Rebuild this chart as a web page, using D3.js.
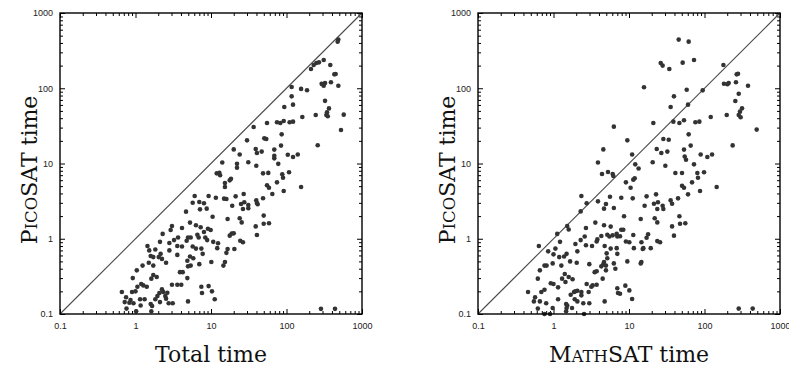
<!DOCTYPE html>
<html>
<head>
<meta charset="utf-8">
<script src="https://cdn.jsdelivr.net/npm/d3@7"></script>
<style>
  body { margin: 0; background: #fff; }
  svg { display: block; }
</style>
</head>
<body>
<svg id="chart" width="789" height="366"></svg>
<script>
// left panel: total time vs PicoSAT time
const totalTime = [
  14.1,11.9,12.9,13.2,6.08,9.3,11.6,14.9,5.72,7.0,
  8.07,7.15,8.77,4.67,10.5,5.27,6.32,7.3,4.13,3.04,
  2.92,2.29,9.1,9.9,8.07,6.6,6.87,4.96,5.38,3.66,
  4.76,8.4,8.9,2.11,2.81,3.24,10.7,12.4,1.44,1.83,
  1.52,2.15,2.81,3.58,4.13,5.72,6.32,7.45,12.1,1.72,
  1.59,2.24,2.54,2.03,3.58,7.76,5.27,5.83,4.86,5.38,
  4.96,7.0,14.6,10.1,1.24,1.04,1.50,1.72,3.88,4.22,
  4.86,0.92,1.62,1.72,1.91,1.19,1.27,1.06,1.41,3.04,
  3.58,4.04,7.45,9.3,7.6,10.3,0.66,0.90,1.0,0.75,
  0.86,0.72,0.83,0.94,1.15,2.24,2.33,2.07,1.95,2.64,
  1.83,2.48,2.54,1.32,1.17,1.59,1.66,2.11,2.75,3.11,
  4.96,11.2,0.76,1.02,1.62,
  486,476,311,269,248,229,211,380,430,448,
  292,324,311,298,388,486,117,117,122,156,
  187,324,365,344,337,352,244,162,573,527,
  259,93.5,91.8,110,122,74.8,82.8,55.2,36.7,50.8,
  54,30,39.1,40.6,46.9,20,24,68.9,68.9,68.9,
  84.6,86.3,104,122,141,31.2,22.1,22.1,39.8,77.8,
  48.9,57.4,87.9,89.9,108,74.8,91.8,55.2,58.6,64.9,
  156,15.3,17.7,18.4,15.3,21.2,19.1,27.1,25,27.6,
  31.2,31.2,26.5,39.8,40.6,41.5,48.9,16,16.6,24,
  25.5,49.9,49.9,58.6,39.1,40.6,17.7,18.8,20,24.4,
  26.5,20.4,16.6,16,15.3,286,439
];
const picoTimeLeft = [
  10.3,7.4,7.55,6.97,3.70,3.70,3.51,3.41,3.01,3.08,
  2.96,2.46,2.51,2.29,1.96,1.64,1.51,1.42,1.39,1.48,
  1.31,1.16,1.36,1.31,1.23,1.13,1.04,1.04,1.04,1.04,
  0.94,1.04,0.96,0.91,0.88,0.96,0.91,0.87,0.80,0.72,
  0.70,0.63,0.70,0.80,0.79,0.79,0.74,0.74,0.75,0.57,
  0.59,0.54,0.48,0.57,0.61,0.63,0.58,0.55,0.51,0.44,
  0.43,0.46,0.44,0.49,0.44,0.38,0.48,0.44,0.36,0.36,
  0.30,0.30,0.295,0.33,0.31,0.25,0.24,0.23,0.23,0.245,
  0.245,0.245,0.23,0.235,0.19,0.20,0.196,0.196,0.20,0.167,
  0.153,0.144,0.141,0.139,0.157,0.213,0.196,0.19,0.173,0.192,
  0.157,0.173,0.16,0.157,0.13,0.136,0.128,0.144,0.139,0.139,
  0.147,0.157,0.118,0.109,0.109,
  443,416,237,221,217,204,180,204,153,155,
  115,117,108,113,120,108,104,78,60.5,98,
  94,68,54,47.9,44.1,42.4,44.1,41.5,44.6,27.9,
  17.5,56.4,36.7,35.3,36,35.3,34.5,34.5,30.5,21.6,
  21.2,20.3,15.6,13.8,14.4,15.4,13.2,15.3,12.7,11.7,
  17.3,24.4,13.1,12.2,13.2,10.4,9.9,8.8,9.35,9.9,
  7.4,7.5,7.18,6.47,7.64,5.62,4.31,5.13,4.77,3.93,
  4.87,5.5,5.97,6.28,4.87,3.66,2.75,3.93,2.9,3.05,
  2.81,2.54,2.48,3.24,2.99,2.87,3.45,3.37,1.83,1.87,
  1.65,2.03,1.58,1.61,1.46,1.12,1.10,1.17,1.18,0.94,
  0.90,0.73,0.73,0.65,0.49,0.117,0.117
];

// right panel: MathSAT time vs PicoSAT time
const mathsatTime = [
  6.3,4.57,3.88,4.39,5.27,6.08,6.2,2.34,2.75,
  2.29,3.88,4.95,5.6,4.67,6.3,1.52,1.59,2.69,1.12,
  3.58,4.67,5.72,6.87,5.16,5.5,6.08,7.0,1.22,1.95,
  2.29,2.59,3.73,3.81,4.3,0.64,1.06,0.85,0.76,0.81,
  1.0,1.49,1.38,1.19,2.07,2.69,3.24,4.76,5.72,6.87,
  0.975,1.27,1.66,2.03,2.98,5.06,5.16,4.67,4.57,4.95,
  4.3,6.3,7.0,6.6,0.66,0.62,1.41,1.59,1.30,3.51,
  3.73,4.48,4.95,0.92,1.0,1.15,1.44,1.79,2.75,3.30,
  3.17,3.73,0.46,0.69,0.76,1.69,1.87,1.95,2.07,2.34,
  2.34,2.92,7.0,7.15,0.57,0.55,0.66,0.80,1.15,1.47,
  1.52,1.91,2.07,2.48,2.98,4.76,0.62,0.975,1.49,1.47,
  1.76,0.76,0.90,2.54,
  45.5,61.7,72.6,51.4,26.3,27.9,34.2,178,278,267,
  261,377,209,201,181,15.8,39.4,58.1,94.6,256,
  284,314,295,284,301,197,121,60.5,35.6,21,
  38.7,46.5,53.5,75.7,85.5,491,236,9.5,28.5,33.6,
  61.7,11,23.3,26.8,32.2,53.5,54.7,56.9,65.6,89,
  109,126,12.1,13.4,20.6,30.3,72.6,41.1,50.4,50.4,
  53.5,60.5,68.4,82,80.4,98.6,87.3,145,9.1,10.5,
  11.4,11.9,7.9,11.2,17.1,16.1,22.8,21.4,24.2,27.9,
  28.5,23.7,35.6,37.2,44.6,8.6,14.3,21.9,23.7,37.2,
  46.5,47.4,55.7,7.9,8.4,7.6,11.4,17.1,17.9,9.1,
  10.1,14.6,15.5,11.6,19.4,23.7,25.8,39.4,9.5,15.2,
  14.3,14.6,8.95,10.1,11,7.6,284,435
];
const picoTimeRight = [
  30.9,15.4,10.3,7.26,7.7,7.26,6.82,3.70,2.96,
  2.31,3.14,2.90,3.62,2.51,2.56,1.48,1.33,1.39,1.16,
  1.64,1.51,1.45,1.16,1.13,1.07,1.11,1.07,0.91,0.85,
  0.96,1.07,0.92,0.98,1.09,0.80,0.74,0.68,0.44,0.44,
  0.62,0.63,0.58,0.57,0.68,0.82,0.80,0.80,0.74,0.75,
  0.47,0.44,0.50,0.48,0.46,0.64,0.55,0.49,0.46,0.44,
  0.43,0.47,0.63,0.40,0.38,0.295,0.34,0.31,0.295,0.36,
  0.37,0.295,0.38,0.256,0.25,0.226,0.266,0.29,0.25,0.24,
  0.23,0.245,0.196,0.196,0.21,0.18,0.196,0.20,0.204,0.196,
  0.177,0.196,0.22,0.19,0.167,0.147,0.147,0.139,0.157,0.136,
  0.13,0.157,0.147,0.139,0.139,0.147,0.118,0.12,0.12,0.109,
  0.12,0.1,0.1,0.1,
  443,416,237,219,217,200,180,204,156,153,
  120,108,117,113,115,103,78,95.7,93.8,67.7,
  84.7,54.1,48.9,44.2,41.1,44.2,41.5,60.5,56.4,34.5,
  36,34.5,37.5,35.3,36,28.2,17.4,20.3,21.2,20.7,
  24.4,13.2,15.6,13.8,14.4,15.3,12.4,11.2,17.3,13.2,
  12.2,13.2,9.75,8.6,10.4,9.35,9.75,7.48,7.48,5.07,
  4.77,3.89,5.62,6.48,7.48,7.64,4.31,4.87,5.62,4.77,
  6.1,6.35,3.51,3.44,3.66,2.75,3.89,2.92,3.05,2.75,
  2.48,2.48,3.24,2.92,3.44,1.99,1.83,1.87,1.65,1.46,
  1.99,1.58,1.61,1.32,1.32,1.08,1.12,1.03,1.15,0.92,
  0.90,0.90,0.75,0.75,0.75,0.93,0.90,1.10,0.50,0.73,
  0.47,0.49,0.238,0.206,0.158,0.186,0.118,0.118
];

const axisDomain = [0.1, 1000];
const majorTicks = [0.1, 1, 10, 100, 1000];
const tickLabels = ["0.1", "1", "10", "100", "1000"];

const config = {
  top: 13,
  plotSize: 301,
  plotWidth: 302,
  panelLeft: [60, 478],
  majorTick: 5,
  minorTick: 3,
  dotRadius: 2.3,
  dotColor: "#333",
  diagColor: "#4a4a4a",
  labelFont: "'Liberation Sans', Arial, sans-serif",
  titleFont: "'DejaVu Serif', serif",
  titleSize: 22,
  smallCapSize: 16.5,
  yTitleX: 37,     // baseline offset of the rotated title from the panel's left edge
  yTitleMid: 170,
};

const svg = d3.select("#chart");

function isDecade(v) {
  const l = Math.log10(v);
  return Math.abs(l - Math.round(l)) < 1e-6;
}

function drawPanel(left, xs, ys, xTitle) {
  const W = config.plotWidth, H = config.plotSize;
  const g = svg.append("g").attr("transform", `translate(${left},${config.top})`);

  const x = d3.scaleLog().domain(axisDomain).range([0, W]);
  const y = d3.scaleLog().domain(axisDomain).range([H, 0]);
  const minor = x.ticks().filter(v => !isDecade(v));

  // minor ticks on all four sides, pointing inwards
  const sides = [
    [d3.axisBottom(x), `translate(0,${H})`],
    [d3.axisTop(x), "translate(0,0)"],
    [d3.axisLeft(y), "translate(0,0)"],
    [d3.axisRight(y), `translate(${W},0)`],
  ];
  sides.forEach(([ax, tr]) => {
    g.append("g").attr("class", "minor").attr("transform", tr)
      .call(ax.tickValues(minor).tickSize(-config.minorTick).tickFormat(""));
    g.append("g").attr("class", "major").attr("transform", tr)
      .call(ax.tickValues(majorTicks).tickSize(-config.majorTick).tickFormat(""));
  });

  // labelled axes
  g.append("g").attr("class", "lab").attr("transform", `translate(0,${H})`)
    .call(d3.axisBottom(x).tickValues(majorTicks).tickSize(0).tickPadding(9)
      .tickFormat((d, i) => tickLabels[i]));
  g.append("g").attr("class", "lab")
    .call(d3.axisLeft(y).tickValues(majorTicks).tickSize(0).tickPadding(7)
      .tickFormat((d, i) => tickLabels[i]));

  g.selectAll(".domain").remove();
  g.selectAll(".tick line").attr("stroke", "#000").attr("stroke-width", 1);
  g.selectAll(".lab text")
    .style("font-family", config.labelFont)
    .style("font-size", "9px")
    .attr("fill", "#222");

  // diagonal y = x
  g.append("line")
    .attr("x1", x(axisDomain[0])).attr("y1", y(axisDomain[0]))
    .attr("x2", x(axisDomain[1])).attr("y2", y(axisDomain[1]))
    .attr("stroke", config.diagColor).attr("stroke-width", 1.1);

  // points
  g.append("g").selectAll("circle")
    .data(xs.map((v, i) => [v, ys[i]]))
    .enter().append("circle")
    .attr("cx", d => x(d[0]))
    .attr("cy", d => y(d[1]))
    .attr("r", config.dotRadius)
    .attr("fill", config.dotColor);

  // frame
  g.append("rect")
    .attr("width", W).attr("height", H)
    .attr("fill", "none").attr("stroke", "#000").attr("stroke-width", 1.4);

  // y title with small caps
  const yt = svg.append("text")
    .attr("transform", `translate(${left - 60 + config.yTitleX},${config.yTitleMid}) rotate(-90)`)
    .attr("text-anchor", "middle")
    .style("font-family", config.titleFont)
    .style("font-size", config.titleSize + "px")
    .attr("fill", "#111");
  yt.append("tspan").text("P");
  yt.append("tspan").style("font-size", config.smallCapSize + "px").text("ICO");
  yt.append("tspan").text("SAT time");

  // x title
  const xt = svg.append("text")
    .attr("x", left + W / 2).attr("y", 362)
    .attr("text-anchor", "middle")
    .style("font-family", config.titleFont)
    .style("font-size", config.titleSize + "px")
    .attr("fill", "#111");
  xTitle.forEach(p => xt.append("tspan")
    .style("font-size", p.small ? config.smallCapSize + "px" : null).text(p.t));
}

drawPanel(config.panelLeft[0], totalTime, picoTimeLeft, [{ t: "Total time" }]);
drawPanel(config.panelLeft[1], mathsatTime, picoTimeRight,
  [{ t: "M" }, { t: "ATH", small: true }, { t: "SAT time" }]);
</script>
</body>
</html>
